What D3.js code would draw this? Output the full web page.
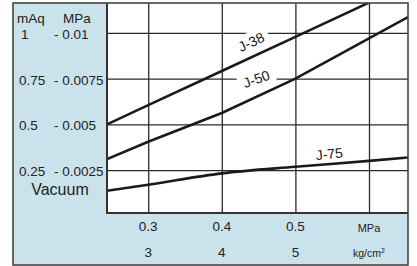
<!DOCTYPE html>
<html>
<head>
<meta charset="utf-8">
<script src="https://cdn.jsdelivr.net/npm/d3@7"></script>
<style>
  body { margin: 0; background: #fff; }
  text { font-family: "Liberation Sans", Arial, sans-serif; fill: #222; }
</style>
</head>
<body>
<div id="chart"></div>
<script>
// data
const pressureTicks = [0.3, 0.4, 0.5, 0.6]
const mpaLabels = ["0.3", "0.4", "0.5"]
const kgLabels = ["3", "4", "5"]
const vacuumTicks = [1, 0.75, 0.5, 0.25]
const mAqLabels = ["1", "0.75", "0.5", "0.25"]
const vacMpaLabels = ["- 0.01", "- 0.0075", "- 0.005", "- 0.0025"]

const j38 = [[0.244, 0.50], [0.3, 0.605], [0.4, 0.792], [0.5, 0.979], [0.6, 1.166]]
const j50 = [[0.244, 0.31], [0.3, 0.405], [0.4, 0.562], [0.5, 0.75], [0.6, 0.97], [0.653, 1.087]]
const j75 = [[0.244, 0.137], [0.3, 0.170], [0.4, 0.232], [0.5, 0.268], [0.6, 0.300], [0.653, 0.319]]

const series = [
  {name: "J-38", values: j38, lx: 0.44, ly: 0.95, rot: -25, bg: true, smooth: false},
  {name: "J-50", values: j50, lx: 0.447, ly: 0.748, rot: -20, bg: true, smooth: false},
  {name: "J-75", values: j75, lx: 0.546, ly: 0.338, rot: -6, bg: false, smooth: true}
]

const W = 417, H = 266
const frame = {left: 13, top: 3, right: 408, bottom: 265}
const plot = {left: 107, top: 3, right: 408, bottom: 213}

const svg = d3.select("#chart").append("svg")
  .attr("width", W)
  .attr("height", H)

const x = d3.scaleLinear().domain([0.244, 0.653]).range([plot.left, plot.right])
const y = d3.scaleLinear().domain([0.015, 1.164]).range([plot.bottom, plot.top])

// blue panel and white plot area
svg.append("rect")
  .attr("x", frame.left).attr("y", frame.top)
  .attr("width", frame.right - frame.left).attr("height", frame.bottom - frame.top)
  .attr("fill", "#cae2ec")
svg.append("rect")
  .attr("x", plot.left).attr("y", plot.top)
  .attr("width", plot.right - plot.left).attr("height", plot.bottom - plot.top)
  .attr("fill", "#fff")

// grid
const grid = svg.append("g")
grid.append("g")
  .attr("transform", `translate(0,${plot.bottom})`)
  .call(d3.axisBottom(x).tickValues(pressureTicks).tickSize(-(plot.bottom - plot.top)).tickFormat(""))
  .call(g => g.select(".domain").remove())
grid.append("g")
  .attr("transform", `translate(${plot.left},0)`)
  .call(d3.axisLeft(y).tickValues(vacuumTicks).tickSize(-(plot.right - plot.left)).tickFormat(""))
  .call(g => g.select(".domain").remove())
grid.selectAll(".tick line").attr("stroke", "#2a2a2a").attr("stroke-width", 1.3)

// line labels (with white backing where they sit on grid lines)
const labels = svg.append("g")
series.forEach(s => {
  const g = labels.append("g")
    .attr("transform", `translate(${x(s.lx)},${y(s.ly)}) rotate(${s.rot})`)
  const t = g.append("text")
    .attr("text-anchor", "middle")
    .attr("dy", "0.35em")
    .attr("font-size", 14)
    .text(s.name)
  if (s.bg) {
    const b = t.node().getBBox()
    g.insert("rect", "text")
      .attr("x", b.x - 5).attr("y", b.y - 2)
      .attr("width", b.width + 10).attr("height", b.height + 2)
      .attr("fill", "#fff")
  }
})

// curves
svg.append("clipPath").attr("id", "clip")
  .append("rect")
  .attr("x", plot.left).attr("y", plot.top)
  .attr("width", plot.right - plot.left).attr("height", plot.bottom - plot.top)

const line = d3.line().x(d => x(d[0])).y(d => y(d[1]))
const smoothLine = d3.line().x(d => x(d[0])).y(d => y(d[1])).curve(d3.curveMonotoneX)
svg.append("g").attr("clip-path", "url(#clip)")
  .selectAll("path")
  .data(series)
  .join("path")
  .attr("d", d => d.smooth ? smoothLine(d.values) : line(d.values))
  .attr("fill", "none")
  .attr("stroke", "#1a1a1a")
  .attr("stroke-width", 2.6)

// plot frame
svg.append("path")
  .attr("d", `M${plot.left},${plot.top}V${plot.bottom}H${plot.right}`)
  .attr("fill", "none").attr("stroke", "#333").attr("stroke-width", 2)
svg.append("rect")
  .attr("x", frame.left).attr("y", frame.top)
  .attr("width", frame.right - frame.left).attr("height", frame.bottom - frame.top)
  .attr("fill", "none").attr("stroke", "#444").attr("stroke-width", 1.6)

// left vacuum scale
const left = svg.append("g")
left.append("text").attr("x", 17).attr("y", 23).attr("font-size", 13.5).text("mAq")
left.append("text").attr("x", 63).attr("y", 23).attr("font-size", 13.5).text("MPa")
left.selectAll(".maq")
  .data(vacuumTicks)
  .join("text")
  .attr("x", (d, i) => i === 0 ? 21 : 19)
  .attr("y", d => y(d))
  .attr("dy", "0.45em")
  .attr("font-size", 13.5)
  .text((d, i) => mAqLabels[i])
left.selectAll(".vmpa")
  .data(vacuumTicks)
  .join("text")
  .attr("x", 54)
  .attr("y", d => y(d))
  .attr("dy", "0.45em")
  .attr("font-size", 13.5)
  .text((d, i) => vacMpaLabels[i])
left.append("text").attr("x", 60).attr("y", 195)
  .attr("text-anchor", "middle").attr("font-size", 16).text("Vacuum")

// bottom pressure scale
const bottom = svg.append("g").attr("text-anchor", "middle")
bottom.selectAll(".mpa")
  .data(mpaLabels)
  .join("text")
  .attr("x", (d, i) => x(pressureTicks[i]))
  .attr("y", 231)
  .attr("font-size", 13.5)
  .text(d => d)
bottom.selectAll(".kg")
  .data(kgLabels)
  .join("text")
  .attr("x", (d, i) => x(pressureTicks[i]))
  .attr("y", 257)
  .attr("font-size", 13.5)
  .text(d => d)
bottom.append("text").attr("x", x(0.6)).attr("y", 232).attr("font-size", 11).text("MPa")
const kgText = bottom.append("text").attr("x", x(0.6)).attr("y", 257).attr("font-size", 10.5)
kgText.append("tspan").text("kg/cm")
kgText.append("tspan").attr("font-size", 7).attr("dy", -4).text("2")
</script>
</body>
</html>
